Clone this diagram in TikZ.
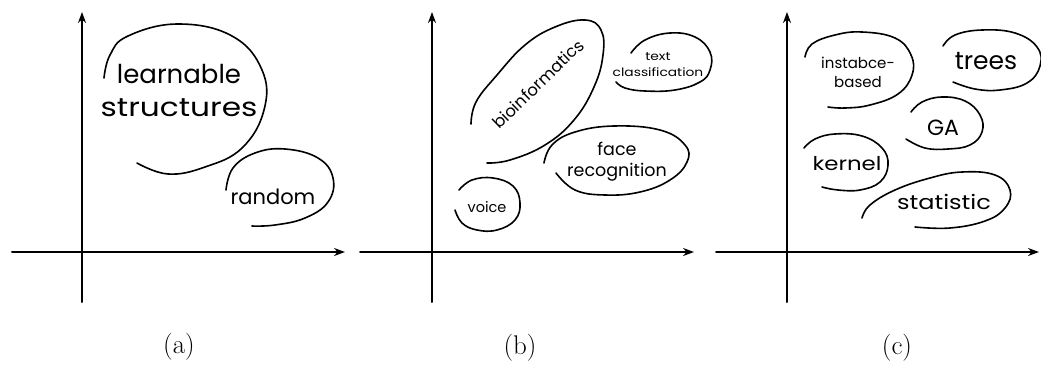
\documentclass[tikz,border=0pt]{standalone}
\usepackage{fontspec}
\newfontfamily\handfont{Poppins}
\newfontfamily\handwide{Poppins}[FakeStretch=1.2]
\usetikzlibrary{arrows.meta}
\begin{document}
\begin{tikzpicture}[x=1pt,y=-1pt,
  axisline/.style={line width=2pt, line cap=round, -{Stealth[length=11pt,width=8pt]}},
  blob/.style={line width=1.6pt, line cap=round, line join=round},
  hand/.style={font=\handfont, inner sep=0pt, align=center},
  caption/.style={font=\fontsize{27}{30}\selectfont, inner sep=0pt}]
\useasboundingbox (0,0) rectangle (1041,381);

% ---------- panel (a) ----------
\coordinate (a-ybot) at (82,302); \coordinate (a-ytop) at (82,12);
\coordinate (a-xl) at (12,252);   \coordinate (a-xr) at (345,252);
\draw[axisline] (a-ybot) -- (a-ytop);
\draw[axisline] (a-xl) -- (a-xr);
\node[hand, font=\handfont\fontsize{26}{33}\selectfont] (learn) at (179,90) {learnable\\{\handwide structures}};
\node[hand, font=\handfont\fontsize{21}{24}\selectfont] (rand) at (273,197) {random};
\draw[blob] plot[smooth, tension=0.7] coordinates {(104,78) (110,55) (128,36) (178,24) (232,36) (262,70) (264,110) (242,148) (205,167) (168,174) (137,163)};
\draw[blob] plot[smooth, tension=0.7] coordinates {(226,190) (233,168) (255,153) (285,149) (318,158) (333,178) (328,202) (305,218) (275,225) (252,226)};
\node[caption] (capa) at (179,347) {(a)};

% ---------- panel (b) ----------
\coordinate (b-ybot) at (432,302); \coordinate (b-ytop) at (432,12);
\coordinate (b-xl) at (360,252);   \coordinate (b-xr) at (694,252);
\draw[axisline] (b-ybot) -- (b-ytop);
\draw[axisline] (b-xl) -- (b-xr);
\node[hand, font=\handfont\fontsize{16.5}{18}\selectfont, rotate=44] (bio) at (538,84) {bioinformatics};
\node[hand, font=\handwide\fontsize{11.5}{16}\selectfont] (text) at (658,65) {text\\classification};
\node[hand, font=\handfont\fontsize{17.5}{21}\selectfont] (face) at (617,162) {face\\recognition};
\node[hand, font=\handfont\fontsize{14.5}{16}\selectfont] (voice) at (487,207) {voice};
\draw[blob] plot[smooth, tension=0.7] coordinates {(471,124) (476,102) (497,75) (525,45) (555,27) (585,20) (601,30) (603,55) (594,87) (574,120) (545,145) (510,160) (487,163)};
\draw[blob] plot[smooth, tension=0.7] coordinates {(631,53) (645,40) (670,33) (695,37) (710,52) (710,70) (700,82) (675,90) (645,91) (625,88) (616,82)};
\draw[blob] plot[smooth, tension=0.7] coordinates {(544,163) (552,145) (575,132) (614,126) (660,130) (685,145) (687,162) (670,180) (640,192) (605,195) (575,190) (556,173)};
\draw[blob] plot[smooth, tension=0.7] coordinates {(459,190) (472,180) (493,178) (513,186) (520,203) (515,220) (497,230) (477,230) (462,223) (455,210)};
\node[caption] (capb) at (520,348) {(b)};

% ---------- panel (c) ----------
\coordinate (c-ybot) at (787,302); \coordinate (c-ytop) at (787,12);
\coordinate (c-xl) at (716,252);   \coordinate (c-xr) at (1039,252);
\draw[axisline] (c-ybot) -- (c-ytop);
\draw[axisline] (c-xl) -- (c-xr);
\node[hand, font=\handfont\fontsize{15}{19}\selectfont] (inst) at (858,72) {instabce-\\based};
\node[hand, font=\handfont\fontsize{25}{27}\selectfont] (trees) at (986,61) {trees};
\node[hand, font=\handfont\fontsize{22}{24}\selectfont] (ga) at (943,128) {GA};
\node[hand, font=\handwide\fontsize{19}{22}\selectfont] (kernel) at (847,164) {kernel};
\node[hand, font=\handwide\fontsize{20}{22}\selectfont] (stat) at (944,202) {statistic};
\draw[blob] plot[smooth, tension=0.7] coordinates {(805,57) (812,44) (835,35) (862,32) (895,38) (911,55) (912,75) (898,94) (870,105) (845,108) (828,107)};
\draw[blob] plot[smooth, tension=0.7] coordinates {(943,46) (955,35) (982,30) (1015,33) (1037,47) (1040,66) (1027,83) (1000,90) (975,89) (953,82)};
\draw[blob] plot[smooth, tension=0.7] coordinates {(911,112) (922,102) (942,97) (965,101) (980,115) (982,132) (970,145) (948,149) (925,148) (906,139)};
\draw[blob] plot[smooth, tension=0.7] coordinates {(804,148) (815,139) (835,134) (862,136) (882,148) (888,165) (880,182) (860,190) (838,190) (822,187)};
\draw[blob] plot[smooth, tension=0.7] coordinates {(862,218) (870,205) (895,190) (930,178) (962,172) (995,175) (1010,190) (1005,208) (985,221) (950,228) (915,227)};
\node[caption] (capc) at (897,348) {(c)};
\end{tikzpicture}
\end{document}
